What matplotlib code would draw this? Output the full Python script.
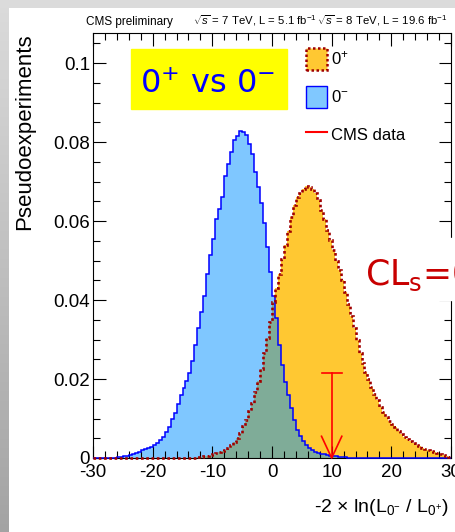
import numpy as np
import matplotlib
matplotlib.use('Agg')
import matplotlib.pyplot as plt
from matplotlib import font_manager
from matplotlib.patches import Rectangle, Patch
from matplotlib.lines import Line2D
from matplotlib.ticker import MultipleLocator, FuncFormatter

# --- data ---
bin_lo = -30.0
bin_width = 0.5

# 0- hypothesis pseudoexperiments, 120 bins of 0.5 from -30 to 30
pdf_0minus = [
    0, 0, 0, 0, 0, 0, 0, 0, 0.0002, 0.0003,
    0.0004, 0.0006, 0.0008, 0.0010, 0.0012, 0.0015, 0.0019, 0.0022, 0.0025, 0.0028,
    0.0032, 0.0038, 0.0045, 0.0053, 0.0067, 0.0078, 0.0098, 0.0115, 0.0136, 0.0160,
    0.0178, 0.0195, 0.0215, 0.0245, 0.0285, 0.0330, 0.0370, 0.0410, 0.0465, 0.0515,
    0.0555, 0.0605, 0.0630, 0.0660, 0.0715, 0.0745, 0.0775, 0.0805, 0.0815, 0.0828,
    0.0825, 0.0818, 0.0795, 0.0770, 0.0725, 0.0685, 0.0645, 0.0595, 0.0535, 0.0470,
    0.0410, 0.0354, 0.0286, 0.0235, 0.0193, 0.0160, 0.0126, 0.0095, 0.0072, 0.0055,
    0.0042, 0.0033, 0.0026, 0.0020, 0.0016, 0.0013, 0.0011, 0.0009, 0.0007, 0.0006,
    0.0005, 0.0004, 0.0003, 0.0002, 0.0002, 0.0001, 0, 0, 0, 0,
    0, 0, 0, 0, 0, 0, 0, 0, 0, 0,
    0, 0, 0, 0, 0, 0, 0, 0, 0, 0,
    0, 0, 0, 0, 0, 0, 0, 0, 0, 0,
]

# 0+ hypothesis pseudoexperiments
pdf_0plus = [
    0, 0, 0, 0, 0, 0, 0, 0, 0, 0,
    0, 0, 0, 0, 0, 0, 0, 0, 0, 0,
    0, 0, 0, 0, 0, 0, 0, 0, 0, 0,
    0, 0, 0, 0, 0.0001, 0.0002, 0.0003, 0.0005, 0.0006, 0.0008,
    0.0010, 0.0012, 0.0014, 0.0017, 0.0020, 0.0025, 0.0032, 0.0040, 0.0050, 0.0064,
    0.0080, 0.0096, 0.0118, 0.0140, 0.0168, 0.0195, 0.0225, 0.0265, 0.0305, 0.0345,
    0.0395, 0.0430, 0.0465, 0.0505, 0.0540, 0.0575, 0.0610, 0.0640, 0.0660, 0.0672,
    0.0682, 0.0688, 0.0686, 0.0680, 0.0670, 0.0652, 0.0628, 0.0605, 0.0578, 0.0552,
    0.0527, 0.0500, 0.0477, 0.0450, 0.0420, 0.0390, 0.0360, 0.0328, 0.0298, 0.0267,
    0.0240, 0.0218, 0.0200, 0.0180, 0.0163, 0.0147, 0.0130, 0.0116, 0.0104, 0.0094,
    0.0086, 0.0078, 0.0068, 0.0060, 0.0054, 0.0049, 0.0043, 0.0038, 0.0033, 0.0030,
    0.0026, 0.0023, 0.0020, 0.0017, 0.0014, 0.0012, 0.0010, 0.0008, 0.0005, 0.0003,
]

obs_value = 10.0      # observed -2 ln(L0-/L0+)
obs_marker_top = 0.0216

x_ticks_major = [-30, -20, -10, 0, 10, 20, 30]
y_ticks_major = [0, 0.02, 0.04, 0.06, 0.08, 0.1]

# --- fonts ---
W, H = 455, 532
names = {f.name for f in font_manager.fontManager.ttflist}
has_narrow = 'Liberation Sans Narrow' in names
if has_narrow:
    narrow = ['Liberation Sans Narrow', 'DejaVu Sans']
    s_tick, s_title, s_leg = 15, 9.5, 13.5
else:
    narrow = ['Liberation Sans', 'DejaVu Sans']
    s_tick, s_title, s_leg = 13.5, 8.2, 12

plt.rcParams['font.family'] = narrow
plt.rcParams['axes.unicode_minus'] = False
plt.rcParams['mathtext.fontset'] = 'custom'
plt.rcParams['mathtext.rm'] = narrow[0]
plt.rcParams['mathtext.it'] = narrow[0] + ':italic'
plt.rcParams['mathtext.bf'] = narrow[0] + ':bold'


def fx(px):
    return px / W


def fy(py):
    return 1 - py / H


fig = plt.figure(figsize=(W / 100, H / 100), dpi=100)
fig.patch.set_facecolor('white')

# slide background: grey strips on the left and top
bg = np.ones((H, W, 3))
shade = np.linspace(0.86, 0.64, H)
bg[:, :9, :] = shade[:, None, None]
bg[:8, :, :] = 0.86
bg_ax = fig.add_axes([0, 0, 1, 1], zorder=-10)
bg_ax.imshow(bg, aspect='auto', extent=[0, W, H, 0], interpolation='bilinear')
bg_ax.set_axis_off()

ax = fig.add_axes([fx(93), fy(458), (451 - 93) / W, (458 - 33) / H])
edges = bin_lo + bin_width * np.arange(len(pdf_0plus) + 1)

col_plus = '#ffc832'
col_plus_edge = '#a00000'
col_minus = '#0191ff'
col_minus_edge = '#0000ff'

ax.stairs(pdf_0plus, edges, fill=True, color=col_plus, zorder=1)
ax.stairs(pdf_0minus, edges, fill=True, color=col_minus, alpha=0.5, lw=0, zorder=1.2)
ax.stairs(pdf_0minus, edges, baseline=0, color=col_minus_edge, lw=1.1,
          zorder=3, clip_on=False)
ax.stairs(pdf_0plus, edges, baseline=0, color=col_plus_edge, lw=1.9,
          linestyle=(0, (1.0, 1.0)), zorder=3.1, clip_on=False)

# observed value: bar + open arrow pointing to the axis
cap = 1.7
head = 0.0055
ax.plot([obs_value, obs_value], [0, obs_marker_top], color='red', lw=1.2, zorder=4)
ax.plot([obs_value - cap, obs_value + cap], [obs_marker_top, obs_marker_top],
        color='red', lw=1.2, zorder=4)
ax.plot([obs_value - cap, obs_value, obs_value + cap], [head, 0, head],
        color='red', lw=1.2, zorder=4, clip_on=False)

ax.set_xlim(-30, 30)
ax.set_ylim(0, 0.1076)
ax.set_xticks(x_ticks_major)
ax.set_yticks(y_ticks_major)
ax.xaxis.set_minor_locator(MultipleLocator(2))
ax.yaxis.set_minor_locator(MultipleLocator(0.005))
ax.yaxis.set_major_formatter(FuncFormatter(lambda v, p: '%g' % round(v, 4)))
ax.tick_params(which='both', direction='in', top=True, right=True, width=0.8,
               labelsize=s_tick)
ax.tick_params(which='major', length=9)
ax.tick_params(which='minor', length=5)
ax.tick_params(axis='y', pad=2)
ax.tick_params(axis='x', pad=4)
ax.set_axisbelow(False)
for sp in ax.spines.values():
    sp.set_linewidth(0.8)

# legend
handles = [
    Patch(facecolor=col_plus, edgecolor=col_plus_edge, linestyle=(0, (1, 1)), lw=1.8),
    Patch(facecolor='#80c8ff', edgecolor=col_minus_edge, lw=1.0),
    Line2D([], [], color='red', lw=1.5),
]
labels = ['0$^{+}$', '0$^{-}$', 'CMS data']
leg = ax.legend(handles, labels, loc='upper left',
                bbox_to_anchor=((306 - 93) / 358, (458 - 48) / 425),
                frameon=False, fontsize=s_leg, borderpad=0, borderaxespad=0,
                handlelength=1.25, handleheight=1.65, handletextpad=0.25,
                labelspacing=0.95)

# titles and axis labels
fig.text(fx(86), fy(25), 'CMS preliminary', fontsize=s_title + 0.3, va='baseline')
fig.text(fx(193), fy(25), r'$\sqrt{s}$ = 7 TeV, L = 5.1 fb$^{-1}$',
         fontsize=s_title, va='baseline')
fig.text(fx(447), fy(25), r'$\sqrt{s}$ = 8 TeV, L = 19.6 fb$^{-1}$',
         fontsize=s_title, va='baseline', ha='right')
fig.text(fx(25), fy(33), 'Pseudoexperiments', rotation=90, ha='center',
         va='top', fontsize=16, family=['Liberation Sans', 'DejaVu Sans'])
fig.text(fx(449), fy(512), r'-2 $\times$ ln(L$_{0^{-}}$ / L$_{0^{+}}$)',
         ha='right', va='baseline', fontsize=s_tick + 0.5)

# slide annotations
fig.add_artist(Rectangle((fx(131), fy(109)), 156 / W, 60 / H,
                         transform=fig.transFigure, color='#ffff00', zorder=5))
fig.text(fx(208), fy(93), r'0$^{+}$ vs 0$^{-}$', ha='center', va='baseline',
         fontsize=23, color='#0000ff', family='DejaVu Sans',
         math_fontfamily='dejavusans', zorder=6)
fig.add_artist(Rectangle((fx(352), fy(300)), (W - 352) / W, 62 / H,
                         transform=fig.transFigure, color='white', zorder=5))
fig.text(fx(365), fy(285), r'CL$_\mathrm{s}$=0.16%', ha='left', va='baseline',
         fontsize=25, color='#c80000', family='DejaVu Sans',
         math_fontfamily='dejavusans', zorder=6)

fig.savefig('out.png', dpi=100)
